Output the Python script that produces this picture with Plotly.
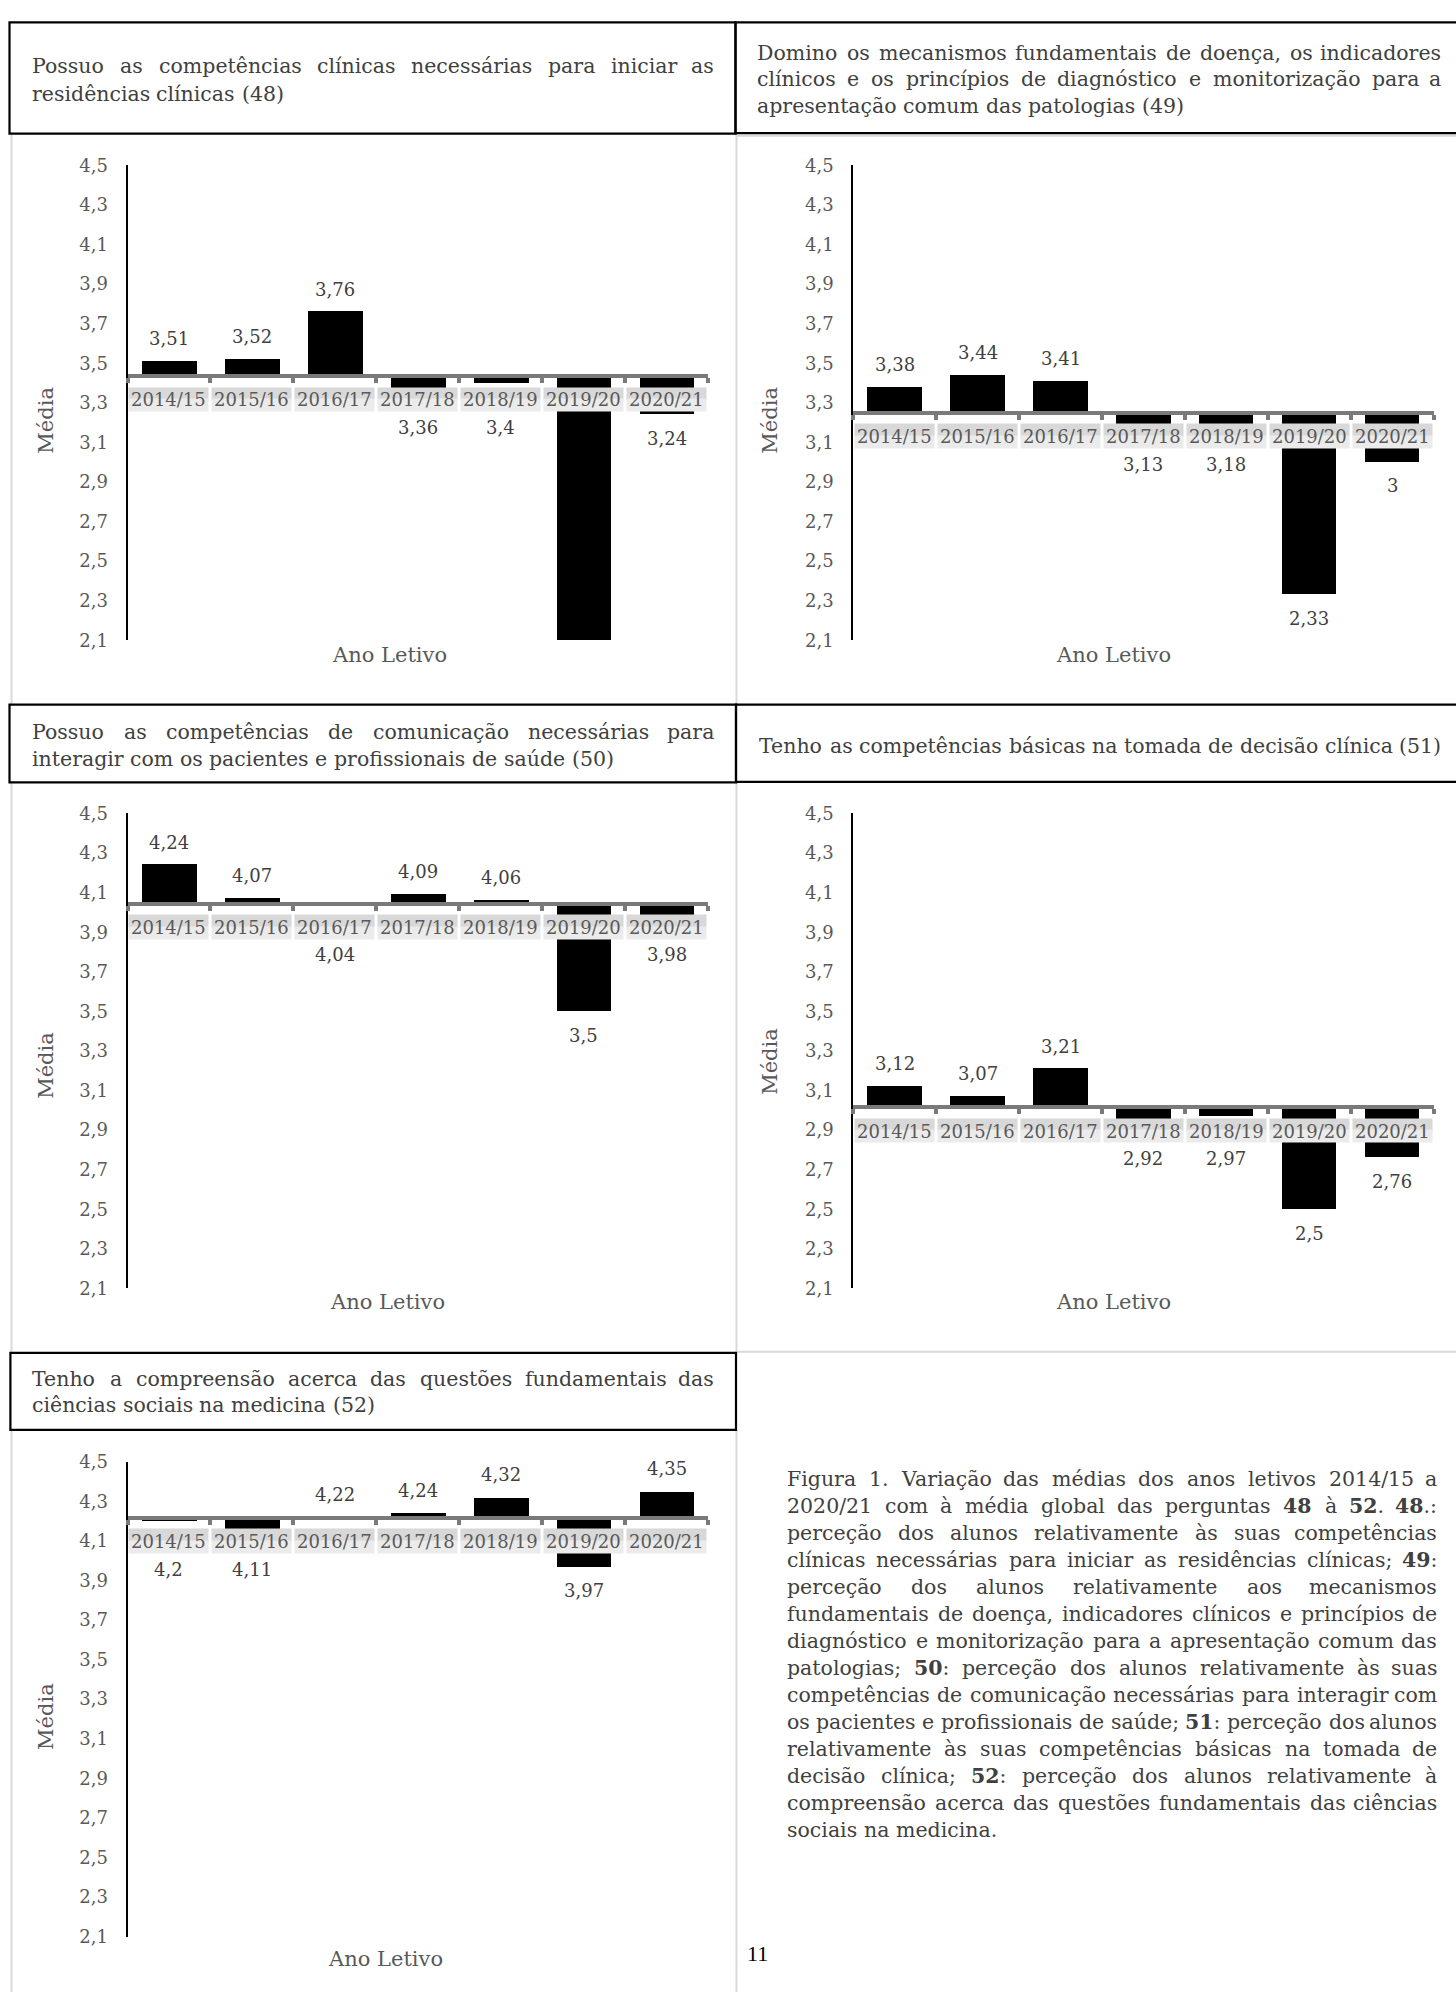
import re
import unicodedata
import plotly.graph_objects as go

W, H = 1456, 2002

# ---------------- data ----------------
categories = ["2014/15", "2015/16", "2016/17", "2017/18", "2018/19", "2019/20", "2020/21"]
q48 = [3.51, 3.52, 3.76, 3.36, 3.4, 2.1, 3.24]
q49 = [3.38, 3.44, 3.41, 3.13, 3.18, 2.33, 3.0]
q50 = [4.24, 4.07, 4.04, 4.09, 4.06, 3.5, 3.98]
q51 = [3.12, 3.07, 3.21, 2.92, 2.97, 2.5, 2.76]
q52 = [4.2, 4.11, 4.22, 4.24, 4.32, 3.97, 4.35]
global_means = [3.435, 3.25, 4.045, 3.015, 4.215]   # where the horizontal axis crosses
y_tickvals = [2.1, 2.3, 2.5, 2.7, 2.9, 3.1, 3.3, 3.5, 3.7, 3.9, 4.1, 4.3, 4.5]
y_ticktext = ["2,1", "2,3", "2,5", "2,7", "2,9", "3,1", "3,3", "3,5", "3,7", "3,9", "4,1", "4,3", "4,5"]
y_range = [2.1, 4.5]

titles = [
    ["Possuo as competências clínicas necessárias para iniciar as",
     "residências clínicas (48)"],
    ["Domino os mecanismos fundamentais de doença, os indicadores",
     "clínicos e os princípios de diagnóstico e monitorização para a",
     "apresentação comum das patologias (49)"],
    ["Possuo as competências de comunicação necessárias para",
     "interagir com os pacientes e profissionais de saúde (50)"],
    ["Tenho as competências básicas na tomada de decisão clínica (51)"],
    ["Tenho a compreensão acerca das questões fundamentais das",
     "ciências sociais na medicina (52)"],
]
caption_lines = [
    "Figura 1. Variação das médias dos anos letivos 2014/15 a",
    "2020/21 com à média global das perguntas <b>48</b> à <b>52</b>. <b>48</b>.:",
    "perceção dos alunos relativamente às suas competências",
    "clínicas necessárias para iniciar as residências clínicas; <b>49</b>:",
    "perceção dos alunos relativamente aos mecanismos",
    "fundamentais de doença, indicadores clínicos e princípios de",
    "diagnóstico e monitorização para a apresentação comum das",
    "patologias; <b>50</b>: perceção dos alunos relativamente às suas",
    "competências de comunicação necessárias para interagir com",
    "os pacientes e profissionais de saúde; <b>51</b>: perceção dos alunos",
    "relativamente às suas competências básicas na tomada de",
    "decisão clínica; <b>52</b>: perceção dos alunos relativamente à",
    "compreensão acerca das questões fundamentais das ciências",
    "sociais na medicina.",
]
x_title = "Ano Letivo"
y_title = "Média"
page_number = "11"
series = [q48, q49, q50, q51, q52]

# ---------------- layout (pixels) ----------------
FONT = "DejaVu Serif"
TXT = "#404040"
AX = "#595959"
panels = [
    dict(x0=127.5, x1=708, yt=156, yb=636, media=(46, 414), ano=(389, 651),
         box=(9.5, 11.5, 735.5, 124), tx=(30.7, 715), ty=[55.8, 83.5]),
    dict(x0=853.3, x1=1433.7, yt=156, yb=636, media=(770, 414), ano=(1113, 651),
         box=(735.5, 11.5, 1462, 123.5), tx=(756, 1442), ty=[42.4, 69.2, 96]),
    dict(x0=127.5, x1=708, yt=811, yb=1291, media=(46, 1066), ano=(387, 1305),
         box=(9.5, 701, 736, 779.5), tx=(30.7, 715), ty=[728.6, 755.9]),
    dict(x0=853.3, x1=1433.7, yt=811, yb=1291, media=(770, 1062), ano=(1113, 1305),
         box=(736, 701, 1462, 779), tx=(758, 1441), ty=[742.9]),
    dict(x0=127.5, x1=708, yt=1466, yb=1946, media=(46, 1724), ano=(385, 1969),
         box=(10.4, 1356, 736, 1434), tx=(31, 715), ty=[1382.2, 1408.8]),
]


def px(x):
    return x / W


def py(y):
    return 1 - y / H


# approximate DejaVu Serif advance widths (em)
CW = {' ': .318, 'a': .596, 'b': .640, 'c': .560, 'd': .640, 'e': .592, 'f': .370, 'g': .640,
      'h': .644, 'i': .320, 'j': .310, 'k': .606, 'l': .320, 'm': .948, 'n': .644, 'o': .602,
      'p': .640, 'q': .640, 'r': .478, 's': .513, 't': .402, 'u': .644, 'v': .565, 'w': .856,
      'x': .564, 'y': .565, 'z': .527, 'P': .683, 'D': .830, 'T': .668, 'F': .684, 'A': .722,
      'L': .653, 'M': .872, '(': .390, ')': .390, ',': .318, '.': .318, '/': .337, ':': .337,
      ';': .337}
for d in "0123456789":
    CW[d] = .636


def text_width(s, size):
    w = 0.0
    parts = re.split(r"(<b>|</b>)", s)
    bold = False
    for part in parts:
        if part == "<b>":
            bold = True
            continue
        if part == "</b>":
            bold = False
            continue
        for ch in part:
            base = unicodedata.normalize("NFD", ch)[0]
            w += CW.get(base, 0.6) * (1.1 if bold else 1.0)
    return w * size


annotations = []
shapes = []


def place_line(line, left, right, yc, size, justify, color=TXT, family=FONT):
    words = line.split(" ")
    widths = [text_width(wd, size) for wd in words]
    n = len(words)
    if justify and n > 1:
        gap = (right - left - sum(widths)) / (n - 1)
        gap = max(gap, 0.22 * size)
    else:
        gap = 0.318 * size
    x = left
    for i, wd in enumerate(words):
        if justify and n > 1 and i == n - 1:
            annotations.append(dict(x=px(right), y=py(yc), xref="paper", yref="paper",
                                    text=wd, showarrow=False, xanchor="right", yanchor="middle",
                                    borderpad=0, font=dict(family=family, size=size, color=color)))
        else:
            annotations.append(dict(x=px(x), y=py(yc), xref="paper", yref="paper",
                                    text=wd, showarrow=False, xanchor="left", yanchor="middle",
                                    borderpad=0, font=dict(family=family, size=size, color=color)))
        x += widths[i] + gap


GRID = "#d9d9d9"


def gline(x0, y0, x1, y1, color=GRID, width=2):
    shapes.append(dict(type="line", xref="paper", yref="paper",
                       x0=px(x0), y0=py(y0), x1=px(x1), y1=py(y1),
                       line=dict(color=color, width=width)))


# light gray table-cell borders
gline(11.5, 124, 11.5, 701)
gline(11.5, 779.5, 11.5, 1356)
gline(11.5, 1434, 11.5, 2002)
gline(736.5, 124, 736.5, 701)
gline(736.5, 779, 736.5, 1356)
gline(736.5, 1434, 736.5, 2002)
gline(736, 1355, 1456, 1355)
gline(736, 126, 1456, 126)

fig = go.Figure()
layout_axes = {}

for k, (p, vals, base, ttl) in enumerate(zip(panels, series, global_means, titles)):
    n = k + 1
    xa = "x" if n == 1 else f"x{n}"
    ya = "y" if n == 1 else f"y{n}"
    xd = [px(p["x0"]), px(p["x1"])]
    yd = [py(p["yb"]), py(p["yt"])]
    pos = yd[0] + (base - y_range[0]) / (y_range[1] - y_range[0]) * (yd[1] - yd[0])

    fig.add_trace(go.Bar(
        x=categories, y=[v - base for v in vals], base=base,
        width=0.66, marker=dict(color="black", line=dict(width=0)),
        xaxis=xa, yaxis=ya, showlegend=False, hoverinfo="skip"))

    layout_axes["xaxis" if n == 1 else f"xaxis{n}"] = dict(
        domain=xd, anchor="free", position=pos, type="category",
        range=[-0.5, len(categories) - 0.5],
        showline=True, linecolor="#7a7a7a", linewidth=4,
        ticks="outside", tickson="boundaries", ticklen=5, tickwidth=4, tickcolor="#7a7a7a",
        showticklabels=False, showgrid=False, zeroline=False, fixedrange=True)
    layout_axes["yaxis" if n == 1 else f"yaxis{n}"] = dict(
        domain=yd, anchor=xa, range=y_range,
        tickvals=y_tickvals, ticktext=y_ticktext,
        showline=True, linecolor="black", linewidth=2, ticks="",
        ticklabelstandoff=14,
        tickfont=dict(family=FONT, size=18, color=AX),
        showgrid=False, zeroline=False, fixedrange=True)

    # category label boxes (two-tone to mimic the gradient fill) under the crossing axis
    for c in categories:
        annotations.append(dict(x=c, y=base - 0.088, xref=xa, yref=ya, text=" ",
                                showarrow=False, xanchor="center", yanchor="middle",
                                width=79, height=12, bgcolor="#d8d8d8", borderpad=0,
                                font=dict(family=FONT, size=8)))
        annotations.append(dict(x=c, y=base - 0.147, xref=xa, yref=ya, text=" ",
                                showarrow=False, xanchor="center", yanchor="middle",
                                width=79, height=12, bgcolor="#ebebeb", borderpad=0,
                                font=dict(family=FONT, size=8)))
        annotations.append(dict(x=c, y=base - 0.12, xref=xa, yref=ya, text=c,
                                showarrow=False, xanchor="center", yanchor="middle",
                                font=dict(family=FONT, size=18, color=AX)))
    # value labels
    for c, v in zip(categories, vals):
        if v >= base:
            ly = v + 0.115
        else:
            ly = min(v - 0.12, base - 0.26)
        annotations.append(dict(x=c, y=ly, xref=xa, yref=ya,
                                text=f"{v:g}".replace(".", ","),
                                showarrow=False, xanchor="center", yanchor="middle",
                                font=dict(family=FONT, size=18, color=TXT)))

    # axis titles
    mx, my = p["media"]
    annotations.append(dict(x=px(mx), y=py(my), xref="paper", yref="paper", text=y_title,
                            textangle=-90, showarrow=False, xanchor="center", yanchor="middle",
                            font=dict(family=FONT, size=21, color=AX)))
    axx, axy = p["ano"]
    annotations.append(dict(x=px(axx), y=py(axy), xref="paper", yref="paper", text=x_title,
                            showarrow=False, xanchor="center", yanchor="middle",
                            font=dict(family=FONT, size=21, color=AX)))

    # title box
    bx0, by0, bx1, by1 = p["box"]
    shapes.append(dict(type="rect", xref="paper", yref="paper",
                       x0=px(bx0), y0=py(by1), x1=px(bx1), y1=py(by0),
                       line=dict(color="black", width=2.2), fillcolor="rgba(0,0,0,0)"))
    left, right = p["tx"]
    for i, (line, yc) in enumerate(zip(ttl, p["ty"])):
        place_line(line, left, right, yc, 20.5, justify=(i < len(ttl) - 1))

# caption paragraph (justified)
for i, line in enumerate(caption_lines):
    place_line(line, 786, 1438, 1483.5 + i * 27.27, 20.5, justify=(i < len(caption_lines) - 1))

# page number
annotations.append(dict(x=px(757), y=py(1963), xref="paper", yref="paper", text=page_number,
                        showarrow=False, xanchor="center", yanchor="middle",
                        font=dict(family="Liberation Serif", size=22, color="black")))

fig.update_layout(
    width=W, height=H, margin=dict(l=0, r=0, t=0, b=0, pad=0),
    paper_bgcolor="white", plot_bgcolor="white",
    font=dict(family=FONT, color=TXT),
    bargap=0, showlegend=False,
    annotations=annotations, shapes=shapes,
    **layout_axes)

fig.write_html("out.html", config={"displayModeBar": False},
               post_script="document.body.style.margin='0px';document.body.style.overflow='hidden';")
